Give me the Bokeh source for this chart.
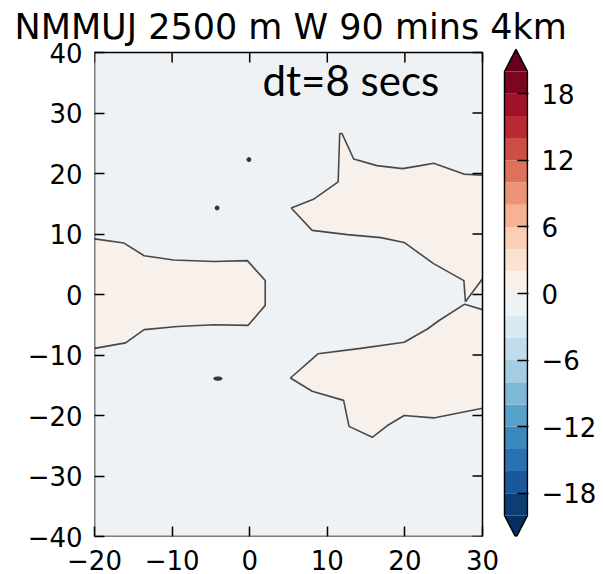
from bokeh.plotting import figure
from bokeh.models import FixedTicker, Range1d, Label, CustomJSTickFormatter, LinearAxis, Title
from bokeh.embed import file_html
from bokeh.resources import INLINE

# ---------------- data ----------------
title_text = "NMMUJ 2500 m W 90 mins 4km"
note_text = "dt=8 secs"

x_ticks = [-20, -10, 0, 10, 20, 30]
y_ticks = [-40, -30, -20, -10, 0, 10, 20, 30, 40]
levels = list(range(-20, 22, 2))
cbar_ticks = [-18, -12, -6, 0, 6, 12, 18]

# zero-contour outlines of the positive (0..2) regions
left_x = [-20, -16.2, -13.6, -9.8, -4.6, -0.3, 2.0, 2.0, -0.2, -4.6, -9.3, -13.6, -16.0, -20]
left_y = [9.2, 8.5, 6.4, 5.7, 5.45, 5.6, 2.3, -1.8, -5.1, -5.0, -5.3, -5.8, -8.0, -8.9]

upper_x = [30, 27.6, 23.7, 22.0, 19.7, 16.4, 13.4, 11.9, 11.6, 11.4, 8.3, 5.35, 8.05, 12.6, 16.9, 19.9, 23.7, 27.6, 27.8, 30]
upper_y = [19.7, 19.9, 21.7, 21.3, 20.8, 21.3, 22.4, 26.6, 26.6, 18.6, 15.8, 14.3, 10.6, 9.9, 9.4, 8.6, 5.1, 2.3, -1.2, 2.6]

lower_x = [30, 27.7, 24.4, 22.9, 19.9, 14.3, 8.8, 5.25, 8.05, 12.1, 12.8, 15.8, 17.7, 19.9, 23.7, 30]
lower_y = [-2.5, -1.6, -4.3, -5.7, -7.9, -8.9, -9.8, -13.8, -16.0, -17.5, -21.8, -23.6, -21.7, -20.0, -20.4, -18.8]

dot_x = [-0.1, -4.2]
dot_y = [22.3, 14.3]
dash_x = [-4.1]
dash_y = [-13.9]

# ---------------- colormap (RdBu_r) ----------------
rdbu = ["#67001f", "#b2182b", "#d6604d", "#f4a582", "#fddbc7", "#f7f7f7",
        "#d1e5f0", "#92c5de", "#4393c3", "#2166ac", "#053061"]
rdbu_r = rdbu[::-1]


def _rgb(h):
    return tuple(int(h[i:i + 2], 16) for i in (1, 3, 5))


def cmap(t):
    t = min(max(t, 0.0), 1.0)
    pos = t * (len(rdbu_r) - 1)
    i = min(int(pos), len(rdbu_r) - 2)
    f = pos - i
    c0, c1 = _rgb(rdbu_r[i]), _rgb(rdbu_r[i + 1])
    return "#%02x%02x%02x" % tuple(int(round(a + (b - a) * f)) for a, b in zip(c0, c1))


lo, hi = levels[0], levels[-1]
step = levels[1] - levels[0]
band_colors = [cmap(((levels[i] + levels[i + 1]) / 2 - lo) / (hi - lo)) for i in range(len(levels) - 1)]
under_color = cmap(0.0)
over_color = cmap(1.0)
neg_band = band_colors[levels.index(0) - 1]
pos_band = band_colors[levels.index(0)]

# ---------------- layout (pixels) ----------------
W, H = 603, 574
FL, FR, FT, FB = 94, 482, 52, 536     # contour panel edges
CT = 48                                # top edge of the drawing frame
CR = 528                               # right edge of the drawing frame (colour bar axis)
BX0, BX1 = 504, 527                    # colour bar body, x
BY_TOP, BY_BOT = 71, 515               # colour bar body, y (hi / lo)

FONT = "DejaVu Sans"
TICK_FS = "26px"
BASE_FIX = 0.37                        # svg alphabetic-baseline correction (em)
minus_fmt = CustomJSTickFormatter(code="return tick < 0 ? '\\u2212' + Math.abs(tick) : String(tick);")

x_lo, x_hi = x_ticks[0], x_ticks[-1]
y_lo, y_hi = y_ticks[0], y_ticks[-1]
px_x = (x_hi - x_lo) / (FR - FL)       # data units per pixel
px_y = (y_hi - y_lo) / (FB - FT)

p = figure(width=W, height=H, title=None,
           x_range=Range1d(x_lo, x_hi + (CR - FR) * px_x),
           y_range=Range1d(y_lo, y_hi + (FT - CT) * px_y),
           min_border_left=FL, min_border_right=W - CR, min_border_top=CT, min_border_bottom=H - FB,
           background_fill_color="white", outline_line_color=None,
           toolbar_location=None, output_backend="svg")
p.grid.visible = False

title_fs = 35
p.add_layout(Title(text=title_text, align="left", offset=14 - FL, standoff=4,
                   text_font=FONT, text_font_size=f"{title_fs}px", text_font_style="normal",
                   text_color="black"), "above")

cw = BX1 - BX0
vpp = (hi - lo) / (BY_BOT - BY_TOP)
p.extra_x_ranges = {"cbx": Range1d((FL - BX0) / cw, (CR - BX0) / cw)}
p.extra_y_ranges = {"cby": Range1d(lo - (FB - BY_BOT) * vpp, hi + (BY_TOP - CT) * vpp)}

# contour panel background (the -2..0 band)
p.quad(left=x_lo, right=x_hi, bottom=y_lo, top=y_hi, fill_color=neg_band, line_color=None)

# contour fill + zero contour lines
p.patches(xs=[left_x, upper_x, lower_x], ys=[left_y, upper_y, lower_y],
          fill_color=pos_band, line_color=None)
p.multi_line(xs=[left_x, upper_x, lower_x], ys=[left_y, upper_y, lower_y],
             line_color="#484848", line_width=1.6)
p.scatter(dot_x, dot_y, size=4, color="#333333")
p.ellipse(dash_x, dash_y, width=1.1, height=0.55, fill_color="#333333", line_color="#333333")

# panel border and inward ticks on top / right edges
tick_px = 10
p.quad(left=x_lo, right=x_hi, bottom=y_lo, top=y_hi, fill_color=None, line_color="black", line_width=1.5)
p.segment(x0=x_ticks, y0=[y_hi] * len(x_ticks), x1=x_ticks, y1=[y_hi - tick_px * px_y] * len(x_ticks),
          line_color="black", line_width=1.5)
p.segment(x0=[x_hi] * len(y_ticks), y0=y_ticks, x1=[x_hi - tick_px * px_x] * len(y_ticks), y1=y_ticks,
          line_color="black", line_width=1.5)

# colour bar: bands, extension triangles, outline
cb = dict(x_range_name="cbx", y_range_name="cby")
p.quad(left=0, right=1, bottom=levels[:-1], top=levels[1:], fill_color=band_colors, line_color=None, **cb)
p.patches(xs=[[0, 1, 0.5], [0, 1, 0.5]], ys=[[hi, hi, hi + step], [lo, lo, lo - step]],
          fill_color=[over_color, under_color], line_color=None, **cb)
p.line(x=[0, 0, 0.5, 1, 1, 0.5, 0], y=[lo, hi, hi + step, hi, lo, lo - step, lo],
       line_color="black", line_width=1.5, **cb)

# axes
p.xaxis.ticker = FixedTicker(ticks=x_ticks)
p.yaxis.ticker = FixedTicker(ticks=y_ticks)
p.add_layout(LinearAxis(y_range_name="cby", ticker=FixedTicker(ticks=cbar_ticks)), "right")
for ax in p.axis:
    ax.major_tick_in = tick_px
    ax.major_tick_out = 0
    ax.minor_tick_line_color = None
    ax.major_tick_line_color = "black"
    ax.major_tick_line_width = 1.5
    ax.axis_line_color = None
    ax.formatter = minus_fmt
    ax.major_label_text_font = FONT
    ax.major_label_text_font_size = TICK_FS
    ax.major_label_text_color = "black"
p.xaxis.major_label_standoff = 13
p.yaxis.major_label_standoff = 12
cax = p.right[0]
cax.major_tick_in = 11
cax.major_label_standoff = 13

# note inside the panel
note_fs = 42
p.add_layout(Label(x=x_lo + (262 - FL) * px_x, y=y_hi - (95 - FT - BASE_FIX * note_fs) * px_y,
                   text=note_text, text_font="Lato", text_font_size=f"{note_fs}px",
                   text_baseline="alphabetic", text_color="black"))

open("out.html", "w").write(file_html(p, INLINE))
